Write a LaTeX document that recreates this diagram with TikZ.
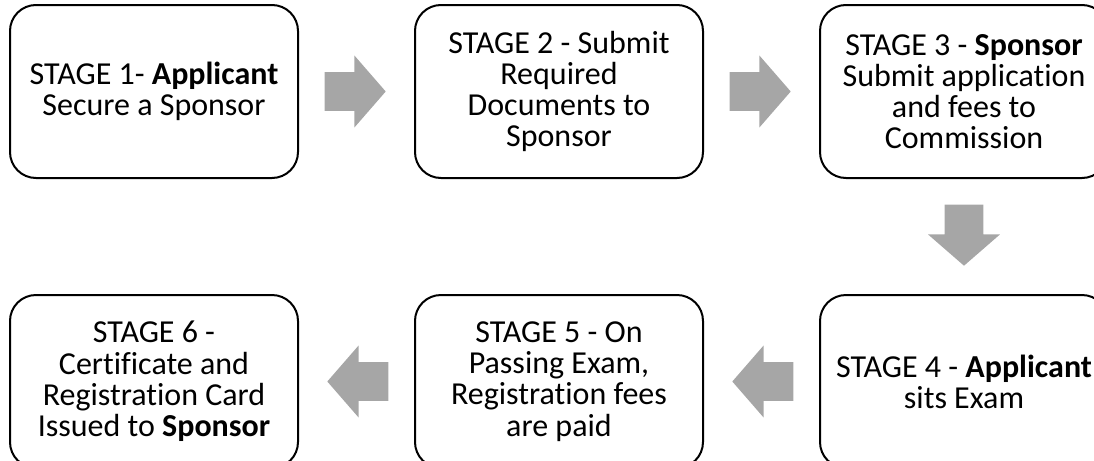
\documentclass[tikz,border=0pt]{standalone}
\usepackage{fontspec}
\setmainfont{Carlito}[Ligatures=NoCommon]
\usetikzlibrary{calc}
\usetikzlibrary{arrows, positioning, shapes.arrows}

\definecolor{arrowgray}{RGB}{166,166,166}

\tikzset{
    stage/.style      = {draw=black, line width=1pt, rounded corners=13pt,
                         minimum width=144pt, minimum height=86.5pt, inner sep=0pt,
                         align=center, font=\fontsize{16}{15.6}\selectfont},
    blockarrow/.style = {single arrow, fill=arrowgray, draw=none, inner xsep=0pt, inner ysep=9.5pt,
                         single arrow head extend=8.25pt, single arrow tip angle=98,
                         minimum height=30.5pt, minimum width=0pt, anchor=tail}
}

\begin{document}
\begin{tikzpicture}[x=0.5pt, y=-0.5pt, node distance=57.5pt]
            \useasboundingbox (0,0) rectangle (1094,461);
            \clip (0,0) rectangle (1094,461);
            \node [stage]               (s1) at (154,91.5) {STAGE 1- \textbf{Applicant}\\Secure a Sponsor};                 % Stage 1
            \node [stage, right=of s1]  (s2) {STAGE 2 - Submit\\Required\\Documents to\\Sponsor};                           % Stage 2
            \node [stage, right=of s2]  (s3) {STAGE 3 - \textbf{Sponsor}\\Submit application\\and fees to\\Commission};     % Stage 3
            \node [stage, below=of s3]  (s4) {STAGE 4 - \textbf{Applicant}\\sits Exam};                                     % Stage 4
            \node [stage, left=of s4]   (s5) {STAGE 5 - On\\Passing Exam,\\Registration fees\\are paid};                    % Stage 5
            \node [stage, left=of s5]   (s6) {STAGE 6 -\\Certificate and\\Registration Card\\Issued to \textbf{Sponsor}};   % Stage 6
            \node [blockarrow]              (a12) at ($(s1.east)!0.22!(s2.west)$) {};    % 1 -> 2
            \node [blockarrow]              (a23) at ($(s2.east)!0.22!(s3.west)$) {};    % 2 -> 3
            \node [blockarrow, rotate=-90]  (a34) at ($(s3.south)!0.22!(s4.north)$) {};  % 3 -> 4
            \node [blockarrow, rotate=180]  (a45) at ($(s4.west)!0.22!(s5.east)$) {};    % 4 -> 5
            \node [blockarrow, rotate=180]  (a56) at ($(s5.west)!0.22!(s6.east)$) {};    % 5 -> 6
        \end{tikzpicture}
\end{document}
